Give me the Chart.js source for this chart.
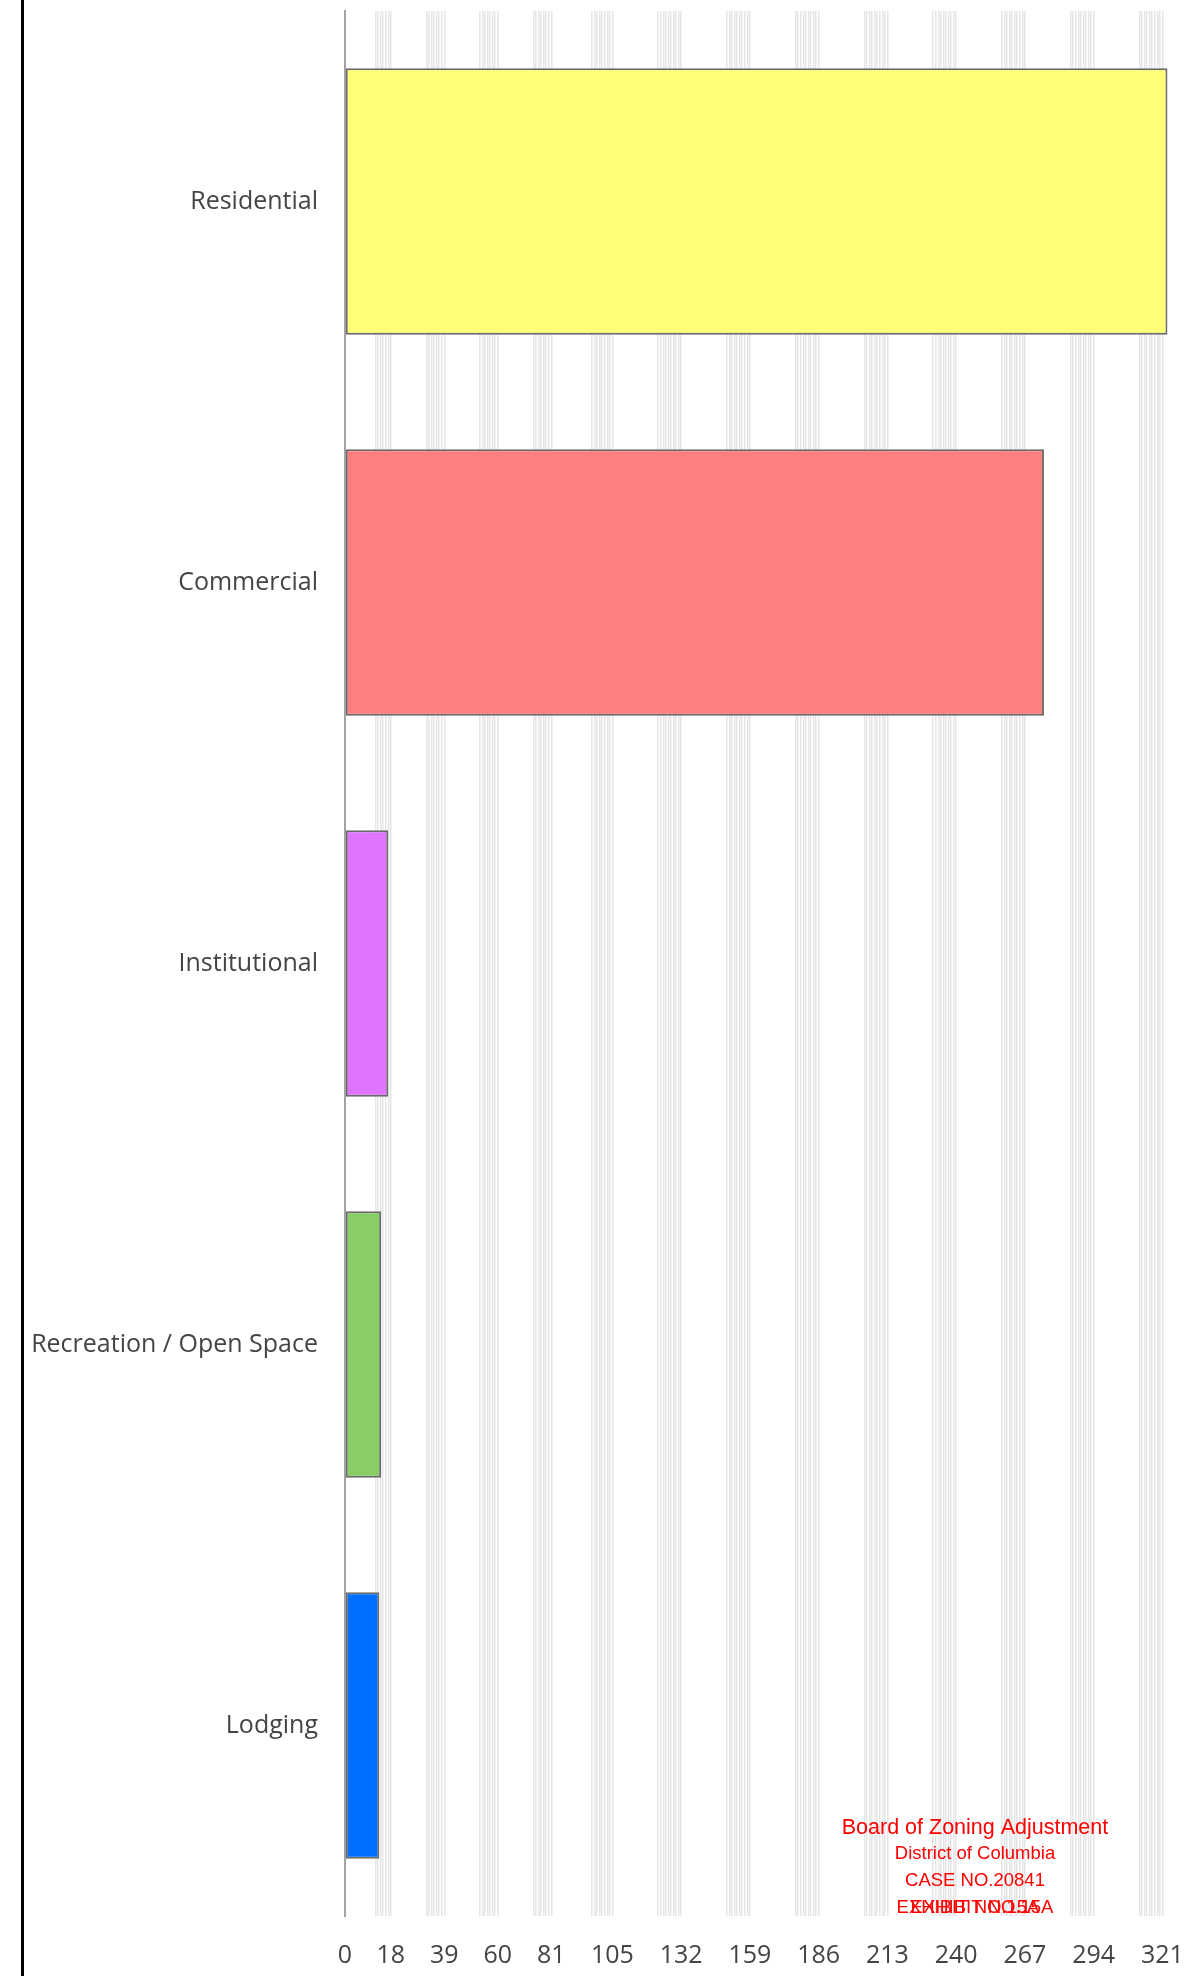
<!DOCTYPE html>
<html>
<head>
<meta charset="utf-8">
<script src="https://cdn.jsdelivr.net/npm/chart.js@4"></script>
<style>
    html, body { margin: 0; padding: 0; background: #fff; }
    #wrap { position: relative; width: 1193px; height: 1976px; }
    #edge { position: absolute; left: 21px; top: 0; width: 3px; height: 1976px; background: #000; z-index: 2; }
</style>
</head>
<body>
<div id="wrap">
    <div id="edge"></div>
    <canvas id="landUse"></canvas>
</div>
<script>
// =========================
// DATA
// =========================
const categories = ["Residential", "Commercial", "Institutional", "Recreation / Open Space", "Lodging"];
const values = [323, 274.5, 17, 14.2, 13.5];
const barColors = ["#feff74", "#ff7f7f", "#df75fd", "#88cd66", "#006eff"];
const tickValues = [0, 18, 39, 60, 81, 105, 132, 159, 186, 213, 240, 267, 294, 321];
const axisMax = 324;

const stampLines = ["Board of Zoning Adjustment", "District of Columbia", "CASE NO.20841"];
const exhibitLabel = "EXHIBIT NO.15A";

// grid stripes: thin lines on whole units just below each labelled tick
function inBand(v) {
    for (let i = 1; i < tickValues.length; i++) {
        const t = tickValues[i];
        const gap = t - tickValues[i - 1];
        if (v <= t + 0.5 && v > t - gap / 3 - 0.5) return true;
    }
    return false;
}

// no extra padding around the axes, keep chart area fixed
function noPad(scale) {
    scale.paddingTop = 0;
    scale.paddingBottom = 0;
    scale.paddingLeft = 0;
    scale.paddingRight = 0;
}

// =========================
// STAMP (red text, bottom right)
// =========================
const stampPlugin = {
    id: "stamp",
    afterDraw(chart) {
        const ctx = chart.ctx;
        ctx.save();
        ctx.fillStyle = "#ff0000";
        ctx.textAlign = "center";
        ctx.textBaseline = "middle";
        ctx.font = "21.5px 'Liberation Sans', Arial, sans-serif";
        ctx.fillText(stampLines[0], 975, 1828);
        ctx.font = "18.5px 'Liberation Sans', Arial, sans-serif";
        ctx.fillText(stampLines[1], 975, 1854);
        ctx.fillText(stampLines[2], 975, 1881);
        ctx.fillText(exhibitLabel, 968, 1908);
        ctx.fillText(exhibitLabel, 982, 1908);
        ctx.restore();
    }
};

document.addEventListener("DOMContentLoaded", () => {
    const ctx = document.getElementById("landUse").getContext("2d");

    new Chart(ctx, {
        type: "bar",
        data: {
            labels: categories,
            datasets: [{
                data: values,
                backgroundColor: barColors,
                borderColor: "#6b6b6b",
                borderWidth: 2,
                borderSkipped: false,
                barPercentage: 0.7,
                categoryPercentage: 1.0
            }]
        },
        options: {
            indexAxis: "y",
            responsive: true,
            maintainAspectRatio: false,
            animation: false,
            layout: { padding: { top: 11, right: 23, bottom: 0, left: 0 } },
            plugins: {
                legend: { display: false },
                tooltip: { enabled: false }
            },
            scales: {
                x: {
                    min: 0,
                    max: axisMax,
                    afterBuildTicks(scale) {
                        const t = [];
                        for (let v = 0; v <= axisMax; v++) t.push({ value: v });
                        scale.ticks = t;
                    },
                    afterFit(scale) { scale.height = 60; noPad(scale); },
                    border: { display: false },
                    grid: {
                        drawTicks: false,
                        lineWidth: 1.5,
                        color: c => (c.tick && inBand(c.tick.value)) ? "#e6e6e6" : "rgba(0,0,0,0)"
                    },
                    ticks: {
                        autoSkip: false,
                        maxRotation: 0,
                        padding: 25,
                        color: "#444",
                        font: { family: "'Open Sans'", size: 25 },
                        callback: v => tickValues.includes(v) ? String(v) : ""
                    }
                },
                y: {
                    afterFit(scale) { scale.width = 345; noPad(scale); },
                    border: { display: true, color: "#a3a3a3", width: 2 },
                    grid: { display: false, drawTicks: false },
                    ticks: {
                        padding: 27,
                        color: "#444",
                        font: { family: "'Open Sans'", size: 25 }
                    }
                }
            }
        },
        plugins: [stampPlugin]
    });
});
</script>
</body>
</html>
